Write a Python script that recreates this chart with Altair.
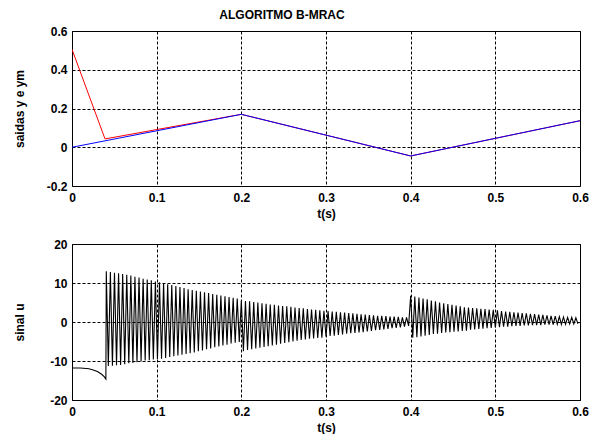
import altair as alt
import pandas as pd

# ---------------- top panel: outputs y (red) and ym (blue) ----------------
ym_t = [0.0, 0.2, 0.4, 0.6]
ym_v = [0.0, 0.170, -0.045, 0.137]
y_t = [0.0, 0.039, 0.2, 0.4, 0.6]
y_v = [0.505, 0.043, 0.170, -0.045, 0.137]

# ---------------- bottom panel: control signal u ----------------
u_pre_t = [0.0, 0.010, 0.020, 0.025, 0.030, 0.035, 0.038, 0.0400]
u_pre_v = [-11.8, -11.8, -12.0, -12.3, -12.7, -13.4, -14.0, -14.6]

seg_start = [0.0405, 0.2, 0.4]
seg_end = [0.2, 0.4, 0.6]
seg_peaks = [
    [13.0, 12.8, 12.6, 12.5, 12.3, 12.1, 11.9, 11.6, 11.4, 11.1, 10.9, 10.7, 10.4, 10.2, 10.0, 9.7, 9.5,
     9.2, 9.0, 8.7, 8.4, 8.2, 8.0, 7.8, 7.6, 7.4, 7.2, 7.0, 6.8, 6.6, 6.4, 6.2, 6.0],
    [5.5, 5.4, 5.3, 5.1, 5.0, 4.8, 4.7, 4.5, 4.4, 4.2, 4.1, 4.0, 3.9, 3.7, 3.6, 3.5, 3.3, 3.2, 3.1, 3.0,
     2.9, 2.8, 2.7, 2.6, 2.5, 2.4, 2.3, 2.2, 2.1, 2.0, 1.9, 1.8, 1.7, 1.6, 1.6, 1.5, 1.4, 1.4, 1.3, 1.2, 1.2],
    [6.7, 6.5, 6.3, 6.0, 5.8, 5.5, 5.3, 5.0, 4.8, 4.6, 4.4, 4.2, 4.0, 3.8, 3.7, 3.6, 3.5, 3.4, 3.3, 3.2,
     3.1, 3.0, 2.8, 2.7, 2.6, 2.5, 2.4, 2.3, 2.2, 2.1, 2.0, 1.9, 1.8, 1.7, 1.6, 1.5, 1.4, 1.3, 1.2, 1.2, 1.1],
]
seg_troughs = [
    [-11.3, -11.2, -11.1, -11.0, -10.8, -10.6, -10.5, -10.3, -10.1, -9.9, -9.8, -9.6, -9.5, -9.4, -9.2,
     -9.0, -8.8, -8.6, -8.4, -8.2, -8.0, -7.8, -7.5, -7.3, -7.0, -6.8, -6.5, -6.3, -6.0, -5.8, -5.5, -5.3, -5.1],
    [-7.5, -7.2, -7.0, -6.8, -6.6, -6.4, -6.2, -6.0, -5.8, -5.6, -5.4, -5.2, -5.0, -4.8, -4.6, -4.5, -4.3,
     -4.2, -4.1, -4.0, -3.8, -3.6, -3.5, -3.3, -3.2, -3.0, -2.9, -2.8, -2.7, -2.6, -2.4, -2.3, -2.1, -2.0,
     -1.9, -1.8, -1.6, -1.5, -1.4, -1.2, -1.0],
    [-4.0, -3.9, -3.7, -3.5, -3.3, -3.1, -3.0, -2.8, -2.7, -2.6, -2.5, -2.4, -2.3, -2.2, -2.0, -1.9, -1.8,
     -1.7, -1.6, -1.5, -1.4, -1.3, -1.2, -1.2, -1.1, -1.0, -1.0, -0.9, -0.9, -0.8, -0.8, -0.8, -0.7, -0.7,
     -0.7, -0.6, -0.6, -0.6, -0.5, -0.5, -0.5],
]

x_ticks = [0, 0.1, 0.2, 0.3, 0.4, 0.5, 0.6]
y1_ticks = [-0.2, 0, 0.2, 0.4, 0.6]
y2_ticks = [-20, -10, 0, 10, 20]

# ---------------- build tables ----------------
top_rows = [{"t": t, "v": v, "s": "y"} for t, v in zip(y_t, y_v)]
top_rows += [{"t": t, "v": v, "s": "ym"} for t, v in zip(ym_t, ym_v)]
top_df = pd.DataFrame(top_rows)

u_rows = [{"t": t, "u": v} for t, v in zip(u_pre_t, u_pre_v)]
for s0, s1, pk, tr in zip(seg_start, seg_end, seg_peaks, seg_troughs):
    n = len(pk)
    step = (s1 - s0) / n
    for k in range(n):
        u_rows.append({"t": s0 + k * step, "u": pk[k]})
        u_rows.append({"t": s0 + (k + 0.5) * step, "u": tr[k]})
u_df = pd.DataFrame(u_rows)

FONT = "Liberation Sans"
lab = "'' + datum.value"

x_axis = alt.Axis(values=x_ticks, labelExpr=lab, title="t(s)", grid=True, ticks=False,
                  domain=False, labelPadding=6, titlePadding=5, labelFlush=False)


def y_axis(vals, title):
    return alt.Axis(values=vals, labelExpr=lab, title=title, grid=True, ticks=False, domain=False,
                    labelPadding=5, minExtent=30, maxExtent=30, titlePadding=16, labelFlush=False)


xs = alt.Scale(domain=[0, 0.6], nice=False, zero=False)

top = alt.Chart(top_df).mark_line(strokeWidth=1, clip=True).encode(
    x=alt.X("t:Q", scale=xs, axis=x_axis),
    y=alt.Y("v:Q", scale=alt.Scale(domain=[-0.2, 0.6], nice=False), axis=y_axis(y1_ticks, "saidas y e ym")),
    color=alt.Color("s:N", scale=alt.Scale(domain=["y", "ym"], range=["#ff0000", "#0000ff"]), legend=None),
    order=alt.Order("s:N"),
).properties(
    width=508, height=155,
    title=alt.TitleParams("ALGORITMO B-MRAC", dx=-44, offset=3, fontSize=12, font=FONT,
                          fontWeight="bold", color="black"),
)

bottom = alt.Chart(u_df).mark_line(strokeWidth=1.1, color="black", clip=True).encode(
    x=alt.X("t:Q", scale=xs, axis=x_axis),
    y=alt.Y("u:Q", scale=alt.Scale(domain=[-20, 20], nice=False), axis=y_axis(y2_ticks, "sinal u")),
).properties(width=508, height=156)

chart = alt.vconcat(
    top, bottom, spacing=17, background="white",
    padding={"left": 4, "right": 0, "top": 0, "bottom": 0},
).configure_view(
    stroke="black", strokeWidth=1
).configure_axis(
    labelFont=FONT, titleFont=FONT, labelFontSize=12, titleFontSize=12,
    labelFontWeight="bold", titleFontWeight="bold", labelColor="black", titleColor="black",
    gridColor="black", gridDash=[3, 2], gridOpacity=1, gridWidth=1,
)

chart.save("out.html", embed_options={"renderer": "svg", "actions": False})
